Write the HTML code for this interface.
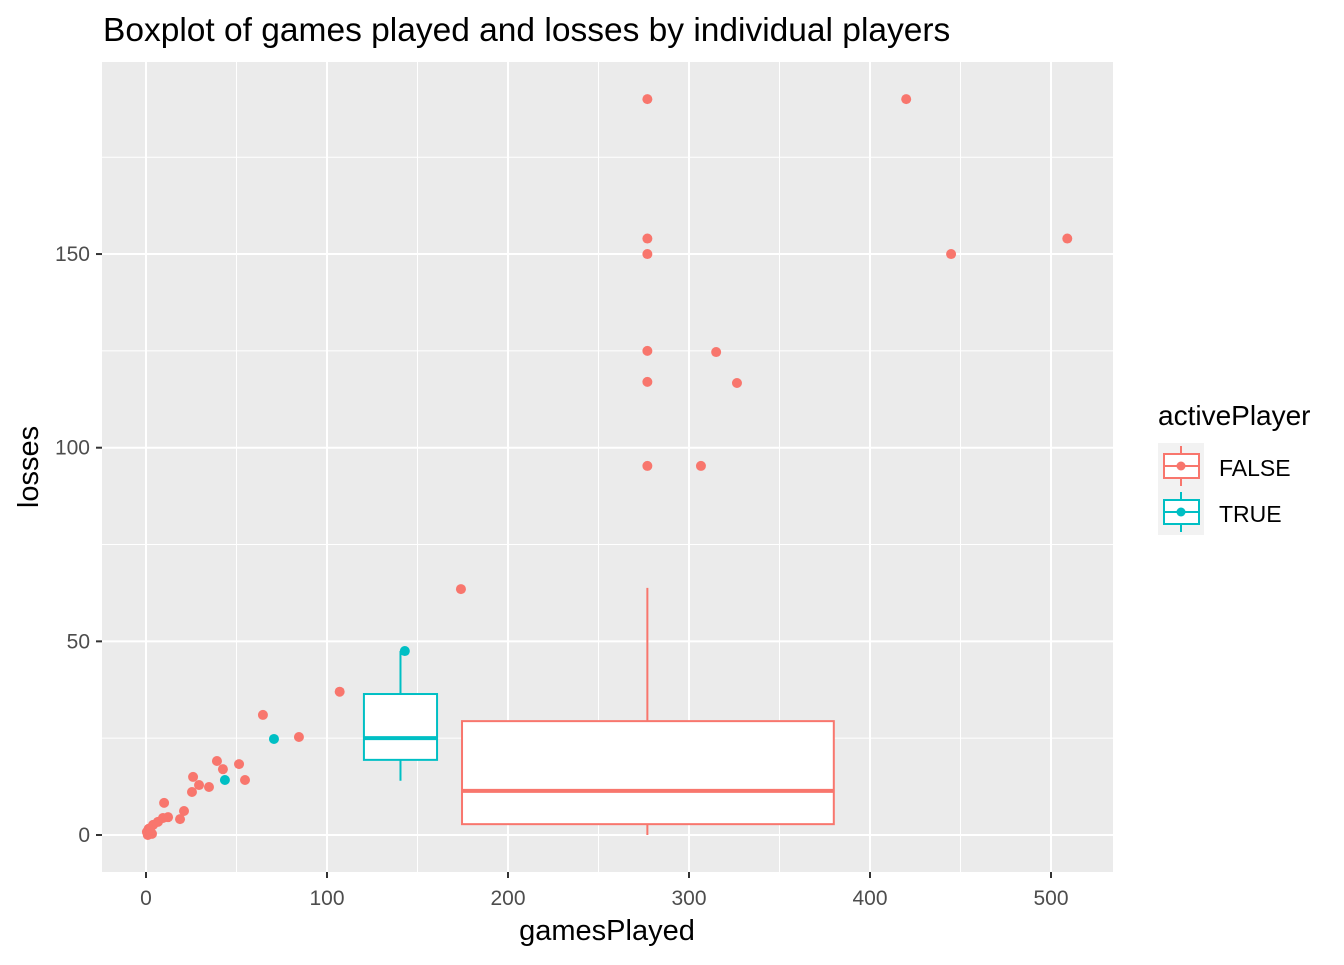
<!DOCTYPE html>
<html><head><meta charset="utf-8"><style>
body{margin:0;background:#fff;}
svg text{font-family:"Liberation Sans",Arial,sans-serif;}
</style></head><body>
<svg id="chart" width="1344" height="960" xmlns="http://www.w3.org/2000/svg">
<text x="103" y="41" font-size="33.5" fill="#000">Boxplot of games played and losses by individual players</text>
<rect x="102" y="62" width="1011" height="810" fill="#ebebeb"/>
<g id="grid"></g>
<g id="boxes"></g>
<g id="points"></g>
<g id="axes"></g>
<text x="607" y="940" font-size="29" text-anchor="middle" fill="#000">gamesPlayed</text>
<text transform="translate(38,467) rotate(-90)" font-size="29" text-anchor="middle" fill="#000">losses</text>
<g>
<text x="1158" y="425" font-size="28" fill="#000">activePlayer</text>
<rect x="1158" y="443" width="46" height="92" fill="#f2f2f2"/>
<g>
<line x1="1181" y1="446" x2="1181" y2="486" stroke="#F8766D" stroke-width="2"/>
<rect x="1164" y="454" width="35" height="24" fill="#fff" stroke="#F8766D" stroke-width="2"/>
<line x1="1164" y1="466" x2="1199" y2="466" stroke="#F8766D" stroke-width="2"/>
<circle cx="1181" cy="466" r="4.5" fill="#F8766D"/>
<text x="1219" y="476" font-size="23" fill="#000">FALSE</text>
</g>
<g>
<line x1="1181" y1="492" x2="1181" y2="532" stroke="#00BFC4" stroke-width="2"/>
<rect x="1164" y="500" width="35" height="24" fill="#fff" stroke="#00BFC4" stroke-width="2"/>
<line x1="1164" y1="512" x2="1199" y2="512" stroke="#00BFC4" stroke-width="2"/>
<circle cx="1181" cy="512" r="4.5" fill="#00BFC4"/>
<text x="1219" y="522" font-size="23" fill="#000">TRUE</text>
</g>
</g>
</svg>
<script>
const xTicks=[0,100,200,300,400,500];
const yTicks=[0,50,100,150];
const falseX=[64.6,84.5,39.2,42.5,51.4,54.7,26,29.3,34.8,25.4,10,21,18.8,12.2,9.4,6.6,3.9,2.2,1,3.3,107,174,277,277,277,277,277,277,315,326.5,306.6,420,444.8,509,0.5,1.5];
const falseY=[31,25.3,19.1,17,18.3,14.2,15,12.9,12.4,11.1,8.3,6.2,4.1,4.6,4.4,3.4,2.6,1.3,0,0.3,37,63.5,190,154,150,125,117,95.3,124.7,116.7,95.3,190,150,154,0.8,1.6];
const trueX=[70.7,43.6,143];
const trueY=[24.8,14.2,47.5];
const boxGroups=['FALSE','TRUE'];
const boxXmin=[174.6,120.4];
const boxXmax=[380,160.8];
const boxMid=[277,140.6];
const boxQ1=[2.8,19.4];
const boxMed=[11.4,25];
const boxQ3=[29.4,36.4];
const boxLo=[0,14];
const boxHi=[63.8,47.5];
const colors=['#F8766D','#00BFC4'];

const X=v=>146+v*1.81;
const Y=v=>835-v*3.873;
const NS='http://www.w3.org/2000/svg';
function mk(parent,tag,attrs){const e=document.createElementNS(NS,tag);for(const k in attrs)e.setAttribute(k,attrs[k]);document.getElementById(parent).appendChild(e);return e;}
for(let i=0;i<xTicks.length;i++){const m=xTicks[i]+50;if(X(m)<1113){const l=mk('grid','line',{x1:X(m),x2:X(m),y1:62,y2:872,stroke:'#fff','stroke-width':1});

}}
for(let i=0;i<yTicks.length;i++){const m=yTicks[i]+25;if(Y(m)>62){const l=mk('grid','line',{y1:Y(m),y2:Y(m),x1:102,x2:1113,stroke:'#fff','stroke-width':1});

}}
xTicks.forEach(t=>{const l=mk('grid','line',{x1:X(t),x2:X(t),y1:62,y2:872,stroke:'#fff','stroke-width':2});


const k=mk('axes','line',{x1:X(t),x2:X(t),y1:872,y2:878,stroke:'#333','stroke-width':2});


const tx=mk('axes','text',{x:X(t),y:905,'font-size':21,'text-anchor':'middle',fill:'#4d4d4d'});tx.textContent=t;

});
yTicks.forEach(t=>{const l=mk('grid','line',{y1:Y(t),y2:Y(t),x1:102,x2:1113,stroke:'#fff','stroke-width':2});


const k=mk('axes','line',{y1:Y(t),y2:Y(t),x1:96,x2:102,stroke:'#333','stroke-width':2});


const tx=mk('axes','text',{x:90,y:Y(t)+7,'font-size':21,'text-anchor':'end',fill:'#4d4d4d'});tx.textContent=t;

});
boxGroups.forEach((g,i)=>{const c=colors[i];
const w=mk('boxes','line',{x1:X(boxMid[i]),x2:X(boxMid[i]),y1:Y(boxHi[i]),y2:Y(boxLo[i]),stroke:c,'stroke-width':2});


const r=mk('boxes','rect',{x:X(boxXmin[i]),y:Y(boxQ3[i]),width:X(boxXmax[i])-X(boxXmin[i]),height:Y(boxQ1[i])-Y(boxQ3[i]),fill:'#fff',stroke:c,'stroke-width':2});


const m=mk('boxes','line',{x1:X(boxXmin[i]),x2:X(boxXmax[i]),y1:Y(boxMed[i]),y2:Y(boxMed[i]),stroke:c,'stroke-width':4});

});
falseX.forEach((v,i)=>{const p=mk('points','circle',{cx:X(v),cy:Y(falseY[i]),r:5,fill:colors[0]});

});
trueX.forEach((v,i)=>{const p=mk('points','circle',{cx:X(v),cy:Y(trueY[i]),r:5,fill:colors[1]});

});
</script>
</body></html>
